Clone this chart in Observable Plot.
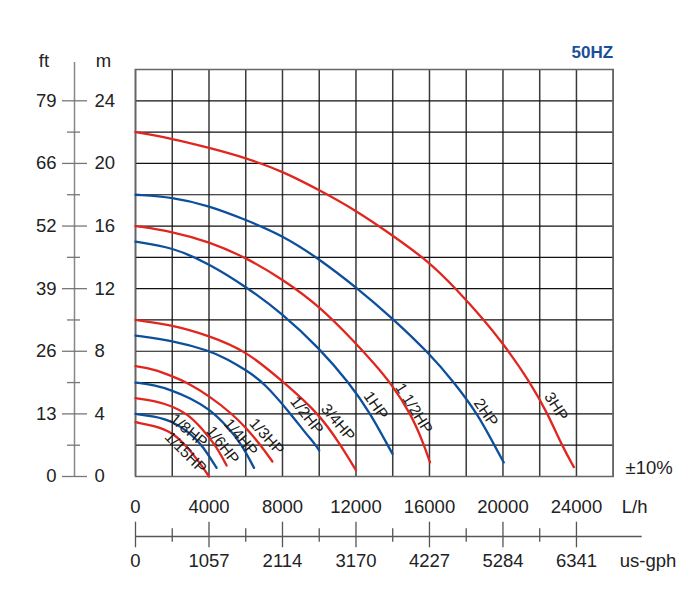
<!DOCTYPE html>
<html>
<head>
<meta charset="utf-8">
<script src="https://cdn.jsdelivr.net/npm/d3@7"></script>
<script src="https://cdn.jsdelivr.net/npm/@observablehq/plot@0.6"></script>
<style>
  html, body { margin: 0; padding: 0; background: #fff; }
  #chart svg { display: block; }
</style>
</head>
<body>
<div id="chart"></div>
<script>
// ---- data ----
const flowTicks = [0, 4000, 8000, 12000, 16000, 20000, 24000];
const flowMinor = [2000, 6000, 10000, 14000, 18000, 22000];
const flowGrid = d3.range(0, 26001, 2000);
const gphLabels = ["0", "1057", "2114", "3170", "4227", "5284", "6341"];
const mTicks = [0, 4, 8, 12, 16, 20, 24];
const mMinor = [2, 6, 10, 14, 18, 22];
const mGrid = d3.range(0, 27, 2);
const ftLabels = ["0", "13", "26", "39", "52", "66", "79"];

const pumps = ["1/15HP", "1/8HP", "1/6HP", "1/4HP", "1/3HP", "1/2HP", "3/4HP", "1HP", "1 1/2HP", "2HP", "3HP"];

// [flow L/h, head m]
const hp1_15 = [[0,3.47],[1000,3.25],[2000,2.83],[2720,2.0],[3400,1.05],[4000,0.0]];
const hp1_8  = [[0,4.0],[1000,3.85],[2000,3.55],[3000,2.75],[3630,2.0],[4414,0.55]];
const hp1_6  = [[0,5.0],[1000,4.85],[2000,4.5],[2820,4.0],[3600,3.1],[4360,2.0],[4960,0.7]];
const hp1_4  = [[0,6.0],[1000,5.85],[2000,5.5],[3000,5.0],[4000,4.33],[5000,3.2],[5810,2.0],[6450,0.55]];
const hp1_3  = [[0,7.05],[1000,6.85],[2000,6.4],[2820,6.0],[4000,5.15],[5270,4.0],[6100,3.0],[6810,2.0],[7450,0.96]];
const hp1_2  = [[0,9.0],[2000,8.69],[4000,8.05],[5000,7.5],[6000,6.8],[7000,6.0],[8450,4.0],[9200,2.85],[9820,2.0],[10000,1.66]];
const hp3_4  = [[0,10.0],[2000,9.69],[4000,9.0],[6000,8.05],[8090,6.0],[10000,4.0],[11170,2.0],[12000,0.4]];
const hp1    = [[0,15.0],[2000,14.65],[4000,13.6],[6000,12.14],[8000,10.4],[10000,8.2],[11620,6.0],[12800,4.0],[13720,2.0],[13990,1.45]];
const hp1_5  = [[0,16.0],[2000,15.65],[4000,15.0],[6000,14.0],[8000,12.6],[10000,10.9],[12000,8.5],[13000,7.2],[13870,6.0],[15000,4.0],[15710,2.0],[16030,0.9]];
const hp2    = [[0,18.0],[2000,17.85],[4000,17.3],[6000,16.4],[8000,15.4],[10000,13.9],[12000,12.1],[14000,10.1],[16000,7.85],[17350,6.0],[18620,4.0],[19530,2.0],[20040,0.9]];
const hp3    = [[0,22.0],[2000,21.58],[4000,21.0],[6000,20.36],[8000,19.5],[10000,18.3],[12000,17.0],[14000,15.4],[16000,13.7],[17440,12.0],[18980,10.0],[20000,8.5],[21500,6.0],[22440,4.0],[23200,2.0],[23860,0.6]];
const curves = [hp1_15, hp1_8, hp1_6, hp1_4, hp1_3, hp1_2, hp3_4, hp1, hp1_5, hp2, hp3];

// label anchors in data units (flow, head) and text angle
const labelFlow  = [2725, 2890, 4740, 5720, 7140, 9320, 11010, 13080, 15150, 19070, 22890];
const labelHead  = [1.53, 2.94, 2.0, 2.5, 2.55, 3.9, 3.45, 4.54, 4.35, 4.09, 4.47];
const labelAngle = [45, 40, 52, 50, 48, 52, 50, 55, 58, 55, 57];

// ---- build ----
const RED = "#e0261e", BLUE = "#0c4f9c";
const lineData = pumps.flatMap((p, i) => curves[i].map(([q, h]) => ({pump: p, i, q, h})));
const labelData = pumps.map((p, i) => ({pump: p, i, q: labelFlow[i], h: labelHead[i], a: labelAngle[i]}));

const font = "'Liberation Sans', Arial, Helvetica, sans-serif";
const fmt = d => String(d);

const chart = Plot.plot({
  width: 700,
  height: 600,
  marginLeft: 135,
  marginRight: 87.3,
  marginTop: 69,
  marginBottom: 124,
  x: {domain: [0, 26000]},
  y: {domain: [0, 26]},
  style: {fontFamily: font, fontSize: "18px", color: "#222", background: "#fff", overflow: "visible"},
  marks: [
    // grid
    Plot.gridX(flowGrid, {stroke: "#3a3a3a", strokeOpacity: 1, strokeWidth: 1.5}),
    Plot.gridY(mGrid, {stroke: "#111", strokeOpacity: 1, strokeWidth: 1.2}),
    Plot.frame({stroke: "#666", strokeWidth: 1.5}),

    // curves
    Plot.line(lineData, {x: "q", y: "h", z: "pump", stroke: d => d.i % 2 ? BLUE : RED,
      strokeWidth: 2.3, curve: "basis"}),

    // curve labels
    Plot.text(labelData, {x: "q", y: "h", text: "pump", rotate: "a", fontSize: 15.5,
      fill: "#1a1a1a", textAnchor: "middle", lineAnchor: "middle"}),

    // left double axis
    Plot.ruleX([0], {dx: -61, insetTop: -7, stroke: "#888", strokeWidth: 1.5}),
    Plot.axisY(mTicks, {anchor: "left", tickSize: 25, dx: -48, fill: "none", stroke: "#777", strokeWidth: 1.3, label: null}),
    Plot.axisY(mMinor, {anchor: "left", tickSize: 13, dx: -55, fill: "none", stroke: "#777", strokeWidth: 1.3, label: null}),
    Plot.axisY(mTicks, {anchor: "left", tickSize: 0, tickPadding: 0, dx: -41, textAnchor: "start",
      tickFormat: fmt, fontSize: 18.5, fill: "#222", label: null}),
    Plot.axisY(mTicks, {anchor: "left", tickSize: 0, tickPadding: 0, dx: -79, textAnchor: "end",
      tickFormat: d => ftLabels[mTicks.indexOf(d)], fontSize: 18.5, fill: "#222", label: null}),
    Plot.text(["ft"], {frameAnchor: "top-left", text: d => d, dx: -91.5, dy: -2.5, textAnchor: "middle", lineAnchor: "bottom", fontSize: 18.5, fill: "#222"}),
    Plot.text(["m"], {frameAnchor: "top-left", text: d => d, dx: -32, dy: -2.5, textAnchor: "middle", lineAnchor: "bottom", fontSize: 18.5, fill: "#222"}),

    // bottom L/h axis labels
    Plot.axisX(flowTicks, {anchor: "bottom", tickSize: 0, tickPadding: 23, tickFormat: fmt, fontSize: 18.5, fill: "#222", label: null}),
    Plot.axisX([26000], {anchor: "bottom", tickSize: 0, tickPadding: 23, tickFormat: () => "L/h", textAnchor: "start",
      dx: 8.5, fontSize: 18.5, fill: "#222", label: null}),

    // second (us-gph) axis
    Plot.ruleY([0], {dy: 60, insetRight: -29, stroke: "#555", strokeWidth: 1.3}),
    Plot.axisX(flowTicks, {anchor: "bottom", tickSize: 25.6, dy: 45.7, fill: "none", stroke: "#555", strokeWidth: 1.3, label: null}),
    Plot.axisX(flowMinor, {anchor: "bottom", tickSize: 13.4, dy: 52.3, fill: "none", stroke: "#555", strokeWidth: 1.3, label: null}),
    Plot.axisX(flowTicks, {anchor: "bottom", tickSize: 0, tickPadding: 77, tickFormat: d => gphLabels[flowTicks.indexOf(d)],
      fontSize: 18.5, fill: "#222", label: null}),
    Plot.axisX([26000], {anchor: "bottom", tickSize: 0, tickPadding: 77, tickFormat: () => "us-gph", textAnchor: "start",
      dx: 6.5, fontSize: 18.5, fill: "#222", label: null}),

    // annotations
    Plot.text(["50HZ"], {frameAnchor: "top-right", text: d => d, textAnchor: "end", lineAnchor: "bottom", dy: -11.7,
      fill: "#1a4f9a", fontWeight: "bold", fontSize: 17}),
    Plot.text(["±10%"], {frameAnchor: "bottom-right", text: d => d, textAnchor: "start", lineAnchor: "bottom", dx: 12.3, dy: -2.7,
      fill: "#222", fontSize: 18.5})
  ]
});
document.getElementById("chart").appendChild(chart);
</script>
</body>
</html>
